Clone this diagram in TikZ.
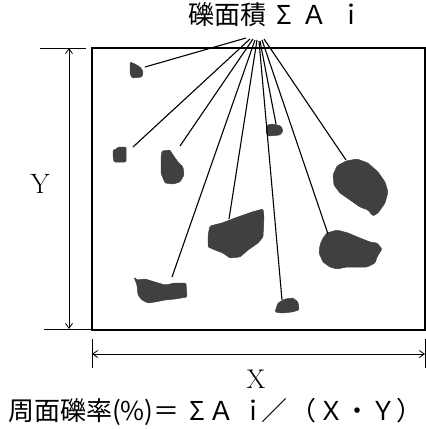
\documentclass[tikz,border=0pt]{standalone}
\usepackage{fontspec}
\newfontfamily\jpfont{Noto Sans CJK JP}
\usetikzlibrary{arrows.meta}

\tikzset{
  stone/.style={fill=black!75, draw=black!75, line width=0.5pt, rounded corners=1.2pt},
  leader/.style={line width=1.1pt},
  dimline/.style={line width=0.8pt},
  jptext/.style={font=\jpfont\fontsize{26}{26}\selectfont, inner sep=0pt, anchor=base west}
}

\begin{document}
\begin{tikzpicture}[x=1pt, y=-1pt, >={Straight Barb[length=5pt,width=7pt]}]
  \useasboundingbox (0,0) rectangle (426,429);

  % Sample area
  \draw[line width=1.3pt] (92,48) rectangle (425,330);

  % Gravel
  \draw[stone] (130,62) -- (135,64) -- (140,67) -- (143,71) -- (142,77) -- (132,78) -- (130,73) -- cycle;
  \draw[stone] (113,150) -- (117,149) -- (118,147) -- (126,147) -- (126,162) -- (114,162) -- (113,155) -- cycle;
  \draw[stone] (162,151) -- (170,150) -- (173,155) -- (178,162) -- (183,167) -- (184,175) -- (180,182) -- (173,184)
               -- (165,183) -- (161,173) -- (161,158) -- cycle;
  \draw[stone] (134,277) -- (137,280) -- (145,279) -- (155,282) -- (165,285) -- (175,283) -- (186,283) -- (187,297)
               -- (175,299) -- (165,300) -- (155,302) -- (148,303) -- (142,300) -- (138,295) -- (137,285) -- cycle;
  \draw[stone] (210,226) -- (222,223) -- (235,218) -- (252,212) -- (263,209) -- (264,217) -- (263,237) -- (258,243)
               -- (248,250) -- (240,257) -- (230,258) -- (223,253) -- (215,250) -- (208,247) -- (208,237) -- (209,230) -- cycle;
  \draw[stone] (267,125) -- (273,124) -- (281,126) -- (283,131) -- (280,135) -- (268,136) -- (266,132) -- cycle;
  \draw[stone] (275,312) -- (278,303) -- (285,299) -- (293,298) -- (298,302) -- (299,310) -- (292,312) -- (282,313) -- cycle;
  \draw[stone] (346,161) -- (357,159) -- (368,163) -- (378,172) -- (385,182) -- (388,192) -- (385,203) -- (378,213)
               -- (373,216) -- (368,210) -- (360,207) -- (350,200) -- (340,193) -- (334,185) -- (333,175) -- (337,166) -- cycle;
  \draw[stone] (327,233) -- (337,230) -- (348,233) -- (360,238) -- (370,242) -- (377,243) -- (382,249) -- (377,257)
               -- (375,263) -- (367,267) -- (357,267) -- (347,267) -- (337,269) -- (330,267) -- (323,262) -- (319,253)
               -- (320,245) -- (323,238) -- cycle;

  % Label of the gravel area
  \node[jptext] (title) at (188,24) {礫面積\hspace{10pt}Σ\hspace{10pt}Ａ\hspace{11pt}ｉ};

  \coordinate (h1) at (246,38);  \coordinate (s1) at (145,67);
  \coordinate (h2) at (250,39);  \coordinate (s2) at (133,147);
  \coordinate (h3) at (253,39);  \coordinate (s3) at (180,146);
  \coordinate (h4) at (255,40);  \coordinate (s4) at (172,277);
  \coordinate (h5) at (257,40);  \coordinate (s5) at (229,219);
  \coordinate (h6) at (260,41);  \coordinate (s6) at (276,124);
  \coordinate (h7) at (259,41);  \coordinate (s7) at (282,300);
  \coordinate (h8) at (264,39);  \coordinate (s8) at (346,160);
  \coordinate (h9) at (262,40);  \coordinate (s9) at (328,234);
  \foreach \i in {1,...,9}
    \draw[leader] (h\i) -- (s\i);

  % Height Y
  \draw[dimline] (40,48) -- (86,48);
  \draw[dimline] (44,329) -- (92,329);
  \coordinate (ytop) at (69,48);
  \coordinate (ybot) at (69,329);
  \draw[dimline,<->] (ytop) -- (ybot);
  \node[font=\fontsize{28}{28}\selectfont, inner sep=0pt, anchor=base] (ylab) at (40,193) {Y};

  % Width X
  \draw[dimline] (92,339) -- (92,368);
  \draw[dimline] (425,339) -- (425,368);
  \coordinate (xleft) at (92,354);
  \coordinate (xright) at (425,354);
  \draw[dimline,<->] (xleft) -- (xright);
  \node[font=\fontsize{27}{27}\selectfont, inner sep=0pt, anchor=base] (xlab) at (256,388) {X};

  % Ratio
  \node[jptext, text depth=0pt] (formula) at (8,420)
    {周面礫率(\%)＝\hspace{10pt}Σ\hspace{3pt}Ａ\hspace{6pt}ｉ\hspace{-5pt}／\hspace{3pt}（\hspace{2pt}Ｘ・Ｙ）};
\end{tikzpicture}
\end{document}
